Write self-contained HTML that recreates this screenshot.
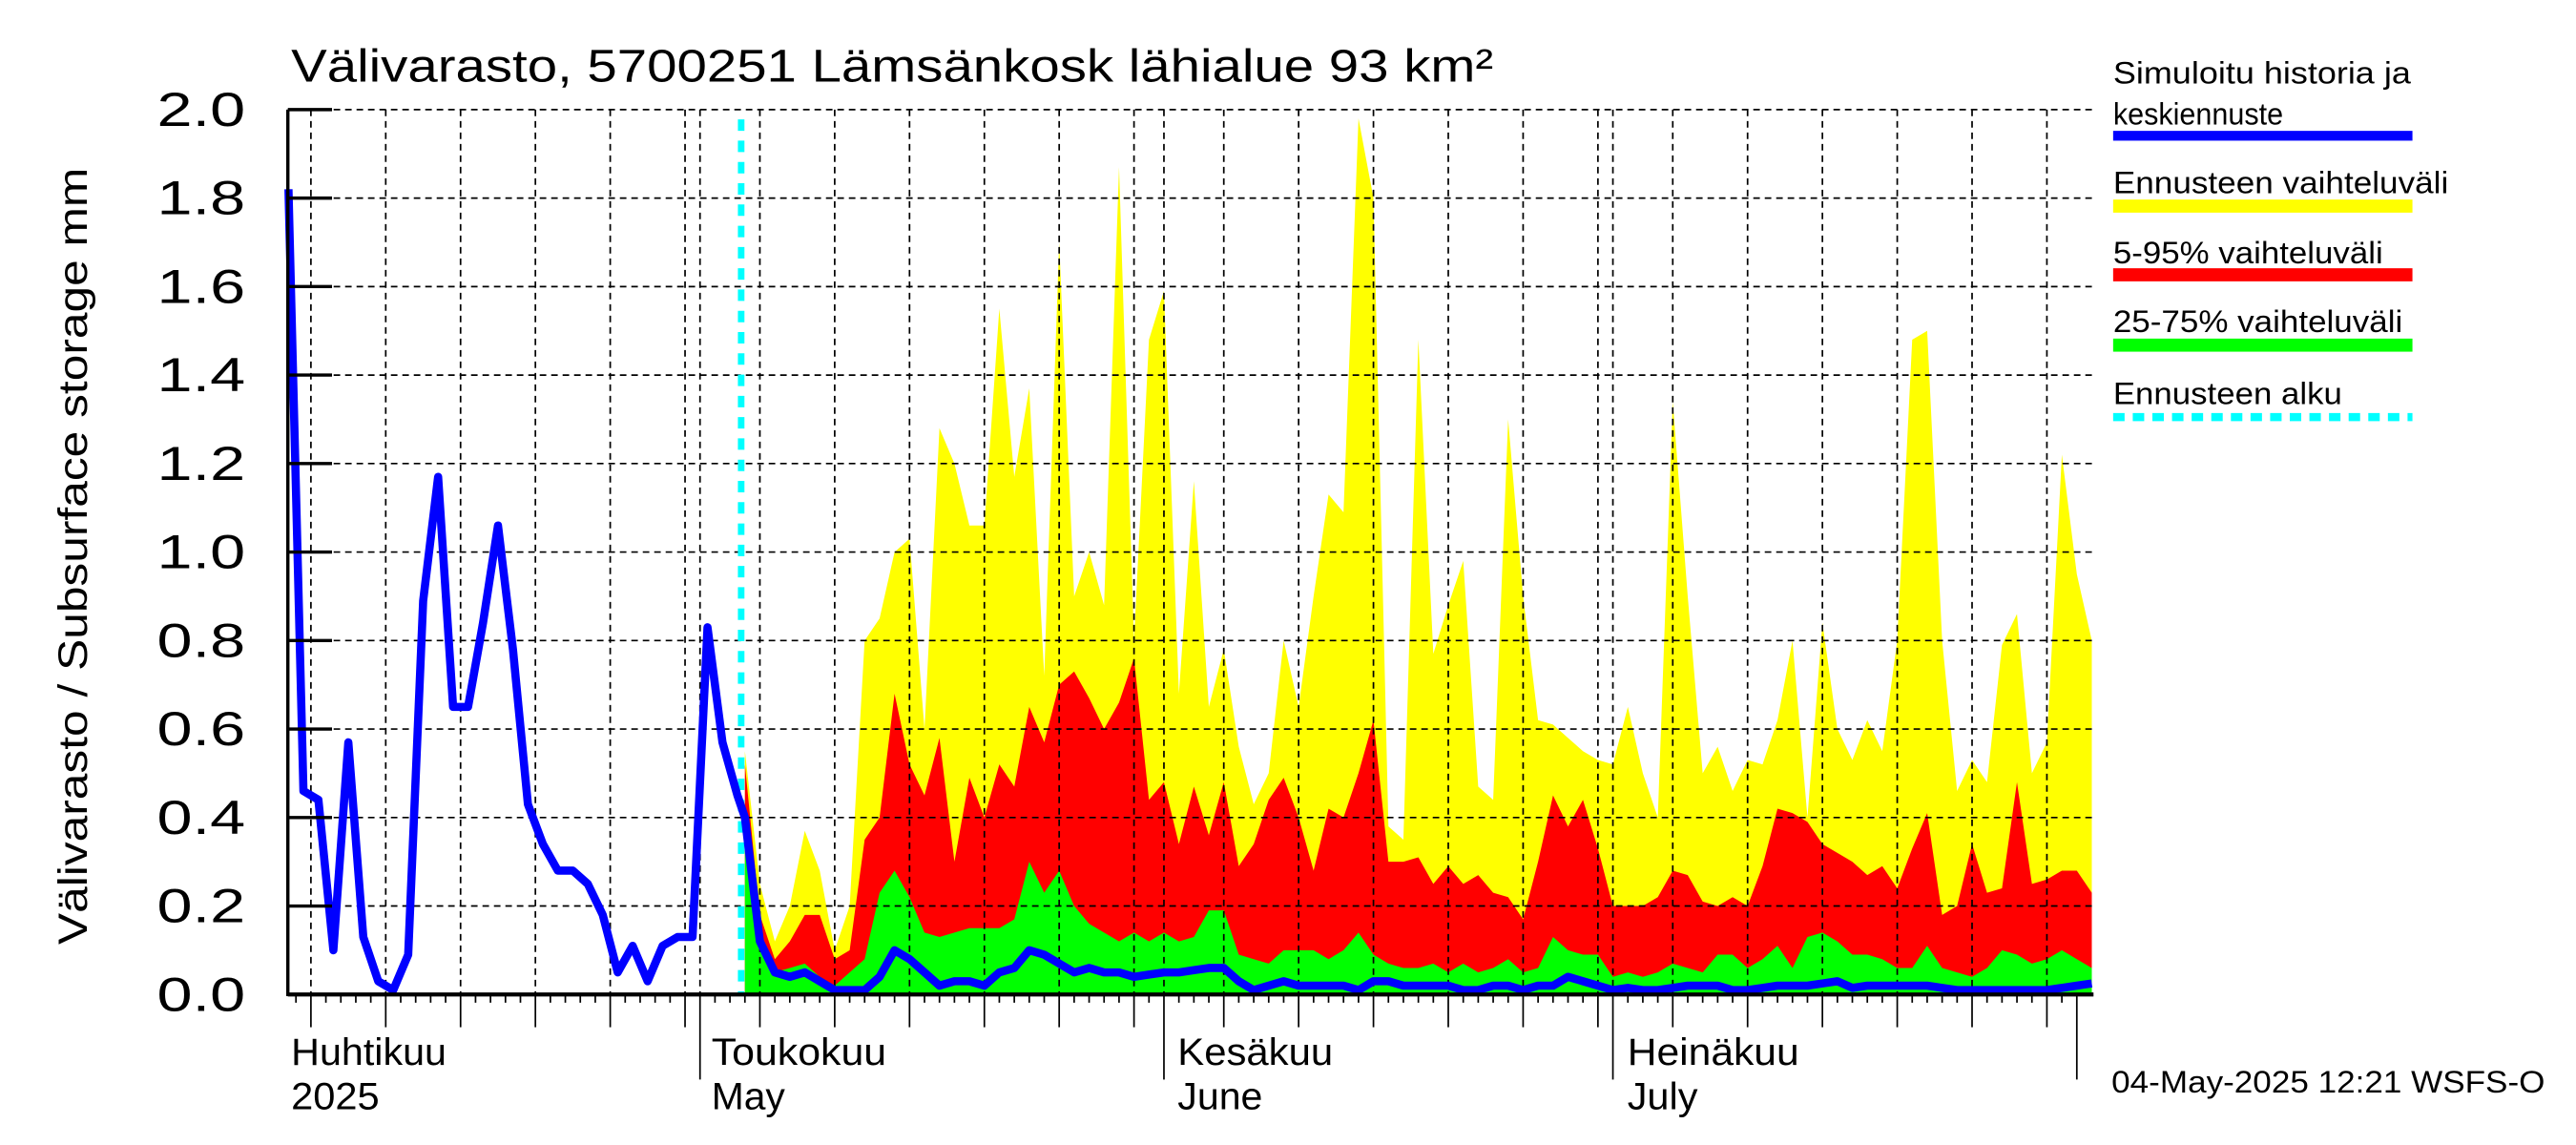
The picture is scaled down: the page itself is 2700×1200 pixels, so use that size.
<!DOCTYPE html>
<html><head><meta charset="utf-8"><style>
html,body{margin:0;padding:0;background:#fff;}
svg{display:block;font-family:"Liberation Sans",sans-serif;}
</style></head><body>
<svg id="chart" width="2700" height="1200" viewBox="0 0 1575 700" xmlns="http://www.w3.org/2000/svg">
<rect x="0" y="0" width="1575" height="700" fill="#fff"/>
<g id="bands"></g>
<g id="grid"></g>
<g id="lines"></g>
<g id="axes"></g>
<text x="178" y="50" font-size="28" textLength="735" lengthAdjust="spacingAndGlyphs">Välivarasto, 5700251 Lämsänkosk lähialue 93 km²</text>
<text transform="translate(53,340) rotate(-90)" text-anchor="middle" font-size="25" textLength="475" lengthAdjust="spacingAndGlyphs">Välivarasto / Subsurface storage  mm</text>
<g font-size="19">
<text x="1292" y="51" textLength="182" lengthAdjust="spacingAndGlyphs">Simuloitu historia ja</text>
<text x="1292" y="76" textLength="104" lengthAdjust="spacingAndGlyphs">keskiennuste</text>
<rect x="1292" y="80" width="183" height="6" fill="#0000ff"/>
<text x="1292" y="118" textLength="205" lengthAdjust="spacingAndGlyphs">Ennusteen vaihteluväli</text>
<rect x="1292" y="122" width="183" height="8" fill="#ffff00"/>
<text x="1292" y="161" textLength="165" lengthAdjust="spacingAndGlyphs">5-95% vaihteluväli</text>
<rect x="1292" y="164" width="183" height="8" fill="#ff0000"/>
<text x="1292" y="203" textLength="177" lengthAdjust="spacingAndGlyphs">25-75% vaihteluväli</text>
<rect x="1292" y="207" width="183" height="8" fill="#00ff00"/>
<text x="1292" y="247" textLength="140" lengthAdjust="spacingAndGlyphs">Ennusteen alku</text>
<line x1="1292" y1="255" x2="1475" y2="255" stroke="#00ffff" stroke-width="5" stroke-dasharray="7,5"/>
</g>
<g font-size="23">
<text x="178" y="651" textLength="95" lengthAdjust="spacingAndGlyphs">Huhtikuu</text>
<text x="178" y="678" textLength="54" lengthAdjust="spacingAndGlyphs">2025</text>
<text x="435" y="651" textLength="107" lengthAdjust="spacingAndGlyphs">Toukokuu</text>
<text x="435" y="678" textLength="45" lengthAdjust="spacingAndGlyphs">May</text>
<text x="720" y="651" textLength="95" lengthAdjust="spacingAndGlyphs">Kesäkuu</text>
<text x="720" y="678" textLength="52" lengthAdjust="spacingAndGlyphs">June</text>
<text x="995" y="651" textLength="105" lengthAdjust="spacingAndGlyphs">Heinäkuu</text>
<text x="995" y="678" textLength="43" lengthAdjust="spacingAndGlyphs">July</text>
</g>
<text x="1291" y="668" font-size="19" textLength="265" lengthAdjust="spacingAndGlyphs">04-May-2025 12:21 WSFS-O</text>
</svg>
<script>
const yTicks = [0,0.2,0.4,0.6,0.8,1.0,1.2,1.4,1.6,1.8,2.0];
const histStartDay = -27.5;
const histValues = [1.82,0.46,0.44,0.10,0.57,0.13,0.03,0.01,0.09,0.89,1.17,0.65,0.65,0.84,1.06,0.78,0.43,0.34,0.28,0.28,0.25,0.18,0.05,0.11,0.03,0.11,0.13,0.13,0.83,0.57,0.45];
const fcStartDay = 3;
const fcMax = [0.55,0.25,0.12,0.20,0.37,0.28,0.10,0.20,0.80,0.85,1.00,1.03,0.60,1.28,1.20,1.06,1.06,1.55,1.17,1.37,0.72,1.70,0.90,1.00,0.88,1.87,0.80,1.48,1.59,0.68,1.16,0.65,0.78,0.56,0.43,0.50,0.80,0.65,0.90,1.13,1.09,1.98,1.80,0.38,0.35,1.48,0.77,0.88,0.98,0.47,0.44,1.30,0.90,0.62,0.61,0.58,0.55,0.53,0.52,0.65,0.50,0.40,1.34,0.90,0.50,0.56,0.46,0.53,0.52,0.62,0.80,0.40,0.84,0.60,0.53,0.62,0.55,0.80,1.48,1.50,0.80,0.46,0.53,0.48,0.79,0.86,0.50,0.57,1.22,0.95,0.80];
const fcP95 = [0.52,0.18,0.08,0.12,0.18,0.18,0.08,0.10,0.35,0.40,0.68,0.52,0.45,0.58,0.30,0.49,0.40,0.52,0.47,0.65,0.57,0.70,0.73,0.67,0.60,0.66,0.76,0.44,0.48,0.34,0.47,0.36,0.48,0.29,0.34,0.44,0.49,0.40,0.28,0.42,0.40,0.50,0.62,0.30,0.30,0.31,0.25,0.29,0.25,0.27,0.23,0.22,0.17,0.30,0.45,0.38,0.44,0.33,0.20,0.20,0.20,0.22,0.28,0.27,0.21,0.20,0.22,0.20,0.29,0.42,0.41,0.39,0.34,0.32,0.30,0.27,0.29,0.24,0.33,0.41,0.18,0.20,0.34,0.23,0.24,0.48,0.25,0.26,0.28,0.28,0.23];
const fcP75 = [0.42,0.12,0.05,0.06,0.07,0.04,0.02,0.05,0.08,0.23,0.28,0.22,0.14,0.13,0.14,0.15,0.15,0.15,0.17,0.30,0.23,0.28,0.20,0.16,0.14,0.12,0.14,0.12,0.14,0.12,0.13,0.19,0.19,0.09,0.08,0.07,0.10,0.10,0.10,0.08,0.10,0.14,0.09,0.07,0.06,0.06,0.07,0.05,0.07,0.05,0.06,0.08,0.05,0.06,0.13,0.10,0.09,0.09,0.04,0.05,0.04,0.05,0.07,0.06,0.05,0.09,0.09,0.06,0.08,0.11,0.06,0.13,0.14,0.12,0.09,0.09,0.08,0.06,0.06,0.11,0.06,0.05,0.04,0.06,0.10,0.09,0.07,0.08,0.10,0.08,0.06];
const fcMedian = [0.40,0.12,0.05,0.04,0.05,0.03,0.01,0.01,0.01,0.04,0.10,0.08,0.05,0.02,0.03,0.03,0.02,0.05,0.06,0.10,0.09,0.07,0.05,0.06,0.05,0.05,0.04,0.045,0.05,0.05,0.055,0.06,0.06,0.03,0.01,0.02,0.03,0.02,0.02,0.02,0.02,0.01,0.03,0.03,0.02,0.02,0.02,0.02,0.01,0.01,0.02,0.02,0.01,0.02,0.02,0.04,0.03,0.02,0.01,0.015,0.01,0.01,0.015,0.02,0.02,0.02,0.01,0.01,0.015,0.02,0.02,0.02,0.025,0.03,0.015,0.02,0.02,0.02,0.02,0.02,0.015,0.01,0.01,0.01,0.01,0.01,0.01,0.01,0.015,0.02,0.025];
const forecastStartDay = 2.75;

const NS = "http://www.w3.org/2000/svg";
const X0 = 428, DAY = 9.15, YB = 608, YT = 67, XL = 176, XR = 1280;
function xs(d){ return X0 + d*DAY; }
function ys(v){ return YB - v/2.0*(YB-YT); }
function mk(tag, attrs, parent){ const e=document.createElementNS(NS,tag); for(const k in attrs) e.setAttribute(k,attrs[k]); parent.appendChild(e); return e; }

const bands = document.getElementById('bands');
function band(arr, color, name){
  let pts = arr.map((v,i)=>xs(fcStartDay+i)+','+ys(v));
  pts.push(xs(fcStartDay+arr.length-1)+','+ys(0));
  pts.push(xs(fcStartDay)+','+ys(0));
  const p = mk('polygon',{points:pts.join(' '),fill:color},bands);
  
  
}
band(fcMax,'#ffff00','band-forecast-range');
band(fcP95,'#ff0000','band-5-95');
band(fcP75,'#00ff00','band-25-75');

const grid = document.getElementById('grid');
yTicks.forEach(t=>{
  if(t>0){
    const l = mk('line',{x1:XL,x2:XR,y1:ys(t),y2:ys(t),stroke:'#000','stroke-width':1,'stroke-dasharray':'4,3'},grid);
    
    
  }
});
const vDays = [-26,-21,-16,-11,-6,-1,0,4,9,14,19,24,29,31,35,40,45,50,55,60,61,65,70,75,80,85,90];
vDays.forEach(d=>{
  const l = mk('line',{x1:xs(d),x2:xs(d),y1:YT,y2:YB,stroke:'#000','stroke-width':1,'stroke-dasharray':'4,3'},grid);
  
  
});

const lines = document.getElementById('lines');
const cy = mk('line',{x1:xs(forecastStartDay),x2:xs(forecastStartDay),y1:YT+6,y2:YB,stroke:'#00ffff','stroke-width':4,'stroke-dasharray':'7,6'},lines);


let lp = histValues.map((v,i)=>xs(histStartDay+i)+','+ys(v));
lp = lp.concat(fcMedian.map((v,i)=>xs(fcStartDay+i)+','+ys(v)));
const ml = mk('polyline',{points:lp.join(' '),fill:'none',stroke:'#0000ff','stroke-width':5,'stroke-linejoin':'round'},lines);



const axes = document.getElementById('axes');
mk('line',{x1:XL,x2:XL,y1:YT,y2:YB+1,stroke:'#000','stroke-width':2},axes);
mk('line',{x1:XL,x2:XR,y1:YB,y2:YB,stroke:'#000','stroke-width':2.5},axes);
yTicks.forEach(t=>{
  mk('line',{x1:XL,x2:XL+27,y1:ys(t),y2:ys(t),stroke:'#000','stroke-width':2},axes);
  const tx = mk('text',{x:150,y:ys(t)+10,'text-anchor':'end','font-size':'29',textLength:'54',lengthAdjust:'spacingAndGlyphs'},axes);
  tx.textContent = t.toFixed(1);
  
  
});
for(let d=-27; d<=92; d++){
  const x = xs(d);
  if(x<XL) continue;
  let len = 5;
  const dom = [-26,-21,-16,-11,-6,-1,4,9,14,19,24,29,35,40,45,50,55,60,65,70,75,80,85,90];
  if(dom.includes(d)) len = 20;
  if(d===0||d===31||d===61) len = 52;
  if(d===92) len = 52;
  mk('line',{x1:x,x2:x,y1:YB,y2:YB+len,stroke:'#000','stroke-width':1},axes);
}
</script>
</body></html>
